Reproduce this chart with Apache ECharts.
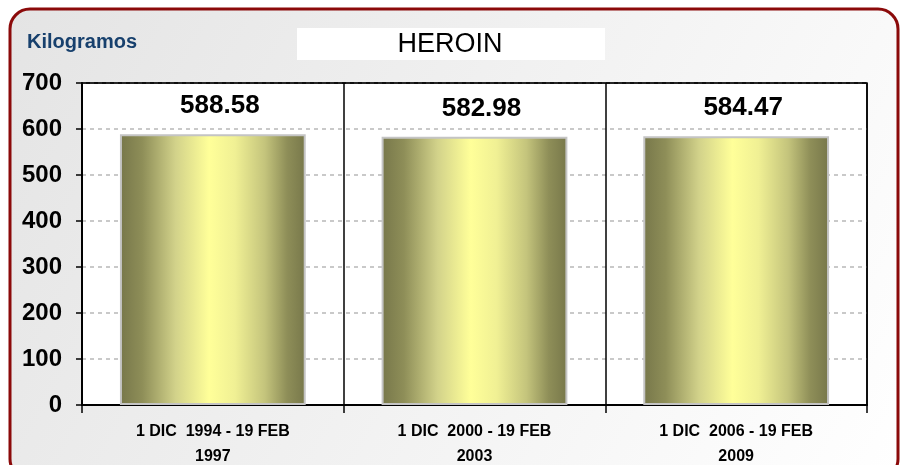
<!DOCTYPE html>
<html>
<head>
<meta charset="utf-8">
<script src="https://cdn.jsdelivr.net/npm/echarts@6/dist/echarts.min.js"></script>
<style>
    html, body {margin: 0; padding: 0; background: #fff;}
    #chart {width: 900px; height: 465px;}
</style>
</head>
<body>
<div id="chart"></div>
<script>
const FONT = 'Liberation Sans, Arial, sans-serif';

// data
const categories = ['1 DIC  1994 - 19 FEB\n1997', '1 DIC  2000 - 19 FEB\n2003', '1 DIC  2006 - 19 FEB\n2009'];
const kilos = [588.58, 582.98, 584.47];
const yTicks = [0, 100, 200, 300, 400, 500, 600, 700];

let myChart = echarts.init(document.getElementById('chart'), null, {renderer: 'canvas'});

// bar fill: dark olive at the sides, pale yellow in the middle
let barFill = new echarts.graphic.LinearGradient(0, 0, 1, 0, [
    {offset: 0, color: '#77774a'},
    {offset: 0.12, color: '#8e8e58'},
    {offset: 0.3, color: '#d2d28a'},
    {offset: 0.48, color: '#ffff99'},
    {offset: 0.62, color: '#f0f094'},
    {offset: 0.78, color: '#c4c47c'},
    {offset: 0.9, color: '#8e8e58'},
    {offset: 1, color: '#77774a'}
]);

let option = {
    animation: false,
    backgroundColor: '#fff',
    graphic: [
        {
            type: 'rect',
            z: -10,
            shape: {x: 10, y: 9, width: 888, height: 470, r: 20},
            style: {
                fill: new echarts.graphic.LinearGradient(0, 0, 1, 1, [
                    {offset: 0, color: '#e4e4e4'},
                    {offset: 1, color: '#ffffff'}
                ]),
                stroke: '#8b0a0a',
                lineWidth: 3
            }
        },
        {
            type: 'rect',
            z: -5,
            shape: {x: 297, y: 28, width: 308, height: 32},
            style: {fill: '#ffffff'}
        },
        {
            type: 'text',
            x: 27,
            y: 42,
            style: {text: 'Kilogramos', fill: '#17406d', font: 'bold 20px ' + FONT, verticalAlign: 'middle'}
        },
        {
            type: 'text',
            x: 450,
            y: 45,
            style: {text: 'HEROIN', fill: '#000', font: '27px ' + FONT, align: 'center', verticalAlign: 'middle'}
        },
        {
            // solid top edge of the plot, drawn over the 700 gridline
            type: 'line',
            z: 100,
            shape: {x1: 82, y1: 83, x2: 867, y2: 83},
            style: {stroke: '#000', lineWidth: 1.5}
        }
    ],
    grid: {
        left: 82,
        right: 33,
        top: 83,
        bottom: 60,
        outerBoundsMode: 'none',
        containLabel: false,
        show: true,
        backgroundColor: '#ffffff',
        borderColor: '#000',
        borderWidth: 1.5
    },
    xAxis: {
        type: 'category',
        data: categories,
        axisLine: {lineStyle: {color: '#000', width: 2}},
        axisTick: {show: true, length: 8, lineStyle: {color: '#000', width: 1.5}},
        splitLine: {show: true, lineStyle: {color: '#000', width: 1.5}},
        axisLabel: {
            color: '#000',
            fontFamily: FONT,
            fontWeight: 'bold',
            fontSize: 16,
            lineHeight: 25,
            margin: 14
        }
    },
    yAxis: {
        type: 'value',
        min: yTicks[0],
        max: yTicks[yTicks.length - 1],
        interval: 100,
        axisLine: {show: true, lineStyle: {color: '#000', width: 2}},
        axisTick: {show: true, length: 6, lineStyle: {color: '#000', width: 1.5}},
        splitLine: {show: true, lineStyle: {color: '#b8b8b8', type: [4, 4], width: 1.5}},
        axisLabel: {
            color: '#000',
            fontFamily: FONT,
            fontWeight: 'bold',
            fontSize: 24,
            margin: 20
        }
    },
    series: [{
        type: 'bar',
        data: kilos,
        barWidth: '71%',
        itemStyle: {
            color: barFill,
            borderColor: '#c4c4c4',
            borderWidth: 2
        },
        label: {
            show: true,
            position: 'top',
            distance: 15,
            offset: [7, 0],
            color: '#000',
            fontFamily: FONT,
            fontWeight: 'bold',
            fontSize: 26,
            formatter: function (p) {
                return p.value.toFixed(2);
            }
        }
    }]
};

myChart.setOption(option);
</script>
</body>
</html>
